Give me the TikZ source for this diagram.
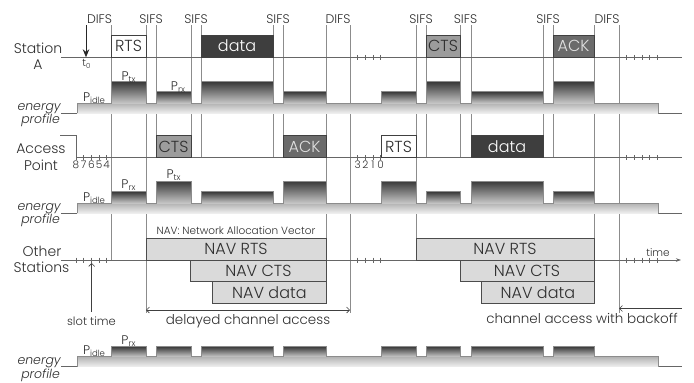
\documentclass[tikz,border=0pt]{standalone}
\usepackage{fontspec}
\setmainfont{Poppins}[UprightFont={* Light}, ItalicFont={* Light Italic}]
\usetikzlibrary{arrows.meta}
\definecolor{txt}{HTML}{2E2E2E}
\definecolor{datafill}{HTML}{3E3E3E}
\definecolor{ackfill}{HTML}{6B6B6B}
\definecolor{ctsfill}{HTML}{9C9C9C}
\definecolor{navfill}{HTML}{DADADA}
\newcommand{\myfs}[1]{\fontsize{#1}{#1}\selectfont}
\newcommand{\Psub}[1]{P\raisebox{-0.35ex}{\myfs{8.5}#1}}
\newcommand{\eprofile}[3]{%
  \fill[top color=black!30, bottom color=black!6] (77,#1) rectangle (658,#2);
  \foreach \a/\b/\t in {#3} {\fill[top color=black!78, bottom color=black!22] (\a,\t) rectangle (\b,#1);}
  \draw[outl] (77,#2) -- (77,#1) \foreach \a/\b/\t in {#3} { -- (\a,#1) -- (\a,\t) -- (\b,\t) -- (\b,#1) } -- (658,#1) -- (658,#2);
}
\begin{document}
\begin{tikzpicture}[x=1pt,y=-1pt,
  vl/.style={draw=black!45, line width=0.6pt},
  tl/.style={draw=black!60, line width=0.6pt},
  tk/.style={draw=black!60, line width=0.5pt},
  outl/.style={draw=black!45, line width=0.5pt},
  lab/.style={text=txt, inner sep=0pt},
  ifs/.style={lab, font=\myfs{12.5}, anchor=base},
  msg/.style={draw=black!75, line width=0.6pt, inner sep=0pt, minimum height=22.5pt, font=\myfs{16}, text=txt},
  nav/.style={draw=black!70, fill=navfill, line width=0.6pt, inner sep=0pt, minimum height=21.7pt, font=\myfs{16}, text=txt},
  rowlab/.style={lab, font=\myfs{14}, anchor=base},
  en/.style={lab, font=\myfs{12.5}\itshape, anchor=base east},
  plab/.style={lab, font=\myfs{12.5}, anchor=base},
  dig/.style={lab, font=\myfs{10.5}, anchor=base},
  barb/.style={draw=black!75, line width=0.6pt}
]
\useasboundingbox (0,0) rectangle (694,383);

% vertical lines
\foreach \x/\y in {111/260, 146/313, 326/303.3, 350/313, 416/260, 594/303.3, 619/313}
  \draw[vl] (\x,25) -- (\x,\y);
\foreach \x in {156,191,201,273,283,426,460,471,543,553}
  \draw[vl] (\x,25) -- (\x,157.7);

% time lines and baselines
\draw[tl] (61,57.3) -- (682,57.3);
\draw[tl] (60,135) -- (76,135) -- (76,157.7) -- (682,157.7);
\draw[tl, -{Stealth[length=5pt,width=3.5pt]}] (61,260) -- (681,260);
\foreach \y in {113.3, 213.3, 366.7} \draw[tl] (61,\y) -- (682,\y);

% ticks
\foreach \y in {57.3,157.7,260} {
  \foreach \x in {357.67,365.33,373,380.67,626.67,634.33,642,649.67,657.33}
    \draw[tk] (\x,\y-2.5) -- (\x,\y+2.5);
}
\foreach \y in {157.7,260} {
  \foreach \x in {76,83.67,91.33,99,106.67}
    \draw[tk] (\x,\y-2.5) -- (\x,\y+2.5);
}

% energy profiles
\eprofile{103.3}{113.3}{111/146/81.7, 156/191/91.7, 201/273/81.7, 283/326/91.7, 381/416/91.7, 426/460/81.7, 471/543/91.7, 553/594/81.7}
\eprofile{203.3}{213.3}{111/146/191.7, 156/191/181, 201/273/191.7, 283/326/181, 381/416/181, 426/460/191.7, 471/543/181, 553/594/191.7}
\eprofile{356.7}{366.7}{111/146/346.5, 156/191/346.5, 201/273/346.5, 283/326/346.5, 381/416/346.5, 426/460/346.5, 471/543/346.5, 553/594/346.5}

% Station A frames
\node[msg, fill=white, minimum width=35pt] (rtsA) at (128.5,46.1) {RTS};
\node[msg, fill=datafill, minimum width=72pt, text=white] (dataA) at (237,46.1) {data};
\node[msg, fill=ctsfill, minimum width=34pt] (ctsA) at (443,46.1) {CTS};
\node[msg, fill=ackfill, minimum width=41pt, text=black!12] (ackA) at (573.5,46.1) {ACK};

% Access point frames
\node[msg, fill=ctsfill, minimum width=35pt] (ctsP) at (173.5,146.4) {CTS};
\node[msg, fill=ackfill, minimum width=43pt, text=black!12] (ackP) at (304.5,146.4) {ACK};
\node[msg, fill=white, minimum width=35pt] (rtsP) at (398.5,146.4) {RTS};
\node[msg, fill=datafill, minimum width=72pt, text=white] (dataP) at (507,146.4) {data};

% NAV boxes
\node[nav, minimum width=180pt] (nav1) at (236,249.15) {NAV RTS};
\node[nav, minimum width=135.3pt] (nav2) at (258.35,270.85) {NAV CTS};
\node[nav, minimum width=113.3pt] (nav3) at (269.35,292.5) {NAV data};
\node[nav, minimum width=178pt] (nav4) at (505,249.15) {NAV RTS};
\node[nav, minimum width=134pt] (nav5) at (527,270.85) {NAV CTS};
\node[nav, minimum width=112.3pt] (nav6) at (537.85,292.5) {NAV data};
\node[lab, font=\myfs{10.5}, anchor=base] (navcap) at (236,234) {NAV: Network Allocation Vector};

% arrows
\coordinate (t0top) at (86,25);
\coordinate (t0) at (86,57.3);
\draw[draw=black!85, line width=0.9pt, -{Stealth[length=8pt,width=6.5pt]}] (t0top) -- (t0);
\coordinate (slotA) at (91.7,312);
\coordinate (slotB) at (91.7,263);
\draw[barb, -{Straight Barb[length=3pt,width=6pt]}] (slotA) -- (slotB);
\coordinate (dl) at (146,310);
\coordinate (dr) at (350,310);
\draw[barb, {Straight Barb[length=3pt,width=6pt]}-{Straight Barb[length=3pt,width=6pt]}] (dl) -- (dr);
\coordinate (bl) at (619,308.5);
\coordinate (br) at (682,308.5);
\draw[barb, {Straight Barb[length=3pt,width=6pt]}-] (bl) -- (br);

% IFS labels
\node[ifs] (l1) at (99.5,23.5) {DIFS};
\node[ifs] (l2) at (151,23.5) {SIFS};
\node[ifs] (l3) at (196,23.5) {SIFS};
\node[ifs] (l4) at (278,23.5) {SIFS};
\node[ifs] (l5) at (338,23.5) {DIFS};
\node[ifs] (l6) at (421,23.5) {SIFS};
\node[ifs] (l7) at (465.5,23.5) {SIFS};
\node[ifs] (l8) at (548,23.5) {SIFS};
\node[ifs] (l9) at (607,23.5) {DIFS};

% row labels
\node[rowlab] (sa1) at (38,53.5) {Station};
\node[rowlab] (sa2) at (38,69.5) {A};
\node[rowlab] (ap1) at (41,153.3) {Access};
\node[rowlab] (ap2) at (41,170) {Point};
\node[rowlab] (os1) at (42,256.7) {Other};
\node[rowlab] (os2) at (41.5,272.7) {Stations};
\node[en] (e1) at (61,110) {energy};
\node[en] (p1) at (60,123.3) {profile};
\node[en] (e2) at (61,210) {energy};
\node[en] (p2) at (60,223.3) {profile};
\node[en] (e3) at (61,364.5) {energy};
\node[en] (p3) at (60,378) {profile};

% power labels
\node[plab] (pa1) at (94,101) {\Psub{idle}};
\node[plab] (pa2) at (128.5,80) {\Psub{tx}};
\node[plab] (pa3) at (178,90.5) {\Psub{rx}};
\node[plab] (pb1) at (94,201.5) {\Psub{idle}};
\node[plab] (pb2) at (128.5,188.5) {\Psub{rx}};
\node[plab] (pb3) at (173.5,178.5) {\Psub{tx}};
\node[plab] (pc1) at (94,354.5) {\Psub{idle}};
\node[plab] (pc2) at (128.5,344.5) {\Psub{rx}};

% t0 and slot digits
\node[lab, font=\myfs{10.5}, anchor=base] (t0lab) at (86.5,66.5) {t\raisebox{-0.3ex}{\myfs{7}0}};
\foreach \x/\d in {76/8, 83.67/7, 91.33/6, 99/5, 106.67/4}
  \node[dig] at (\x,168.3) {\d};
\foreach \x/\d in {357.67/3, 365.33/2, 373/1, 380.67/0}
  \node[dig] at (\x,168.5) {\d};

% other texts
\node[lab, font=\myfs{10.5}, anchor=base] (timelab) at (658,256) {time};
\node[lab, font=\myfs{11.5}, anchor=base] (slotlab) at (91.5,325) {slot time};
\node[lab, font=\myfs{13.5}, anchor=base] (delay) at (248,324) {delayed channel access};
\node[lab, font=\myfs{13.5}, anchor=base] (backoff) at (582,323.5) {channel access with backoff};
\end{tikzpicture}
\end{document}
